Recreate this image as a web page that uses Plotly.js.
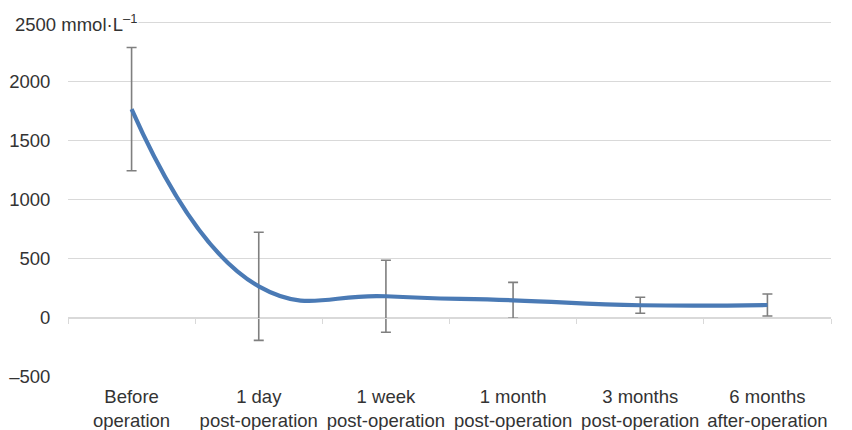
<!DOCTYPE html>
<html><head><meta charset="utf-8">
<script src="https://cdn.plot.ly/plotly-3.0.1.min.js"></script>
<style>html,body{margin:0;padding:0;background:#fff}#chart{width:852px;height:430px}</style>
</head><body><div id="chart"></div>
<script>
var categories = ["Before<br>operation","1 day<br>post-operation","1 week<br>post-operation","1 month<br>post-operation","3 months<br>post-operation","6 months<br>after-operation"];
var meanValues = [1770, 268, 184, 150, 108, 110];
var errorValues = [522, 458, 305, 152, 68, 93];
var yTickVals = [-500, 0, 500, 1000, 1500, 2000, 2500];
var yTickText = ["\u2013500", "0", "500", "1000", "1500", "2000", ""];
var boundaryVals = [-0.5, 0.5, 1.5, 2.5, 3.5, 4.5, 5.5];
var idx = categories.map(function(c,i){return i;});

var font = {family: "Liberation Sans, Arial, sans-serif", size: 18.5, color: "#333333"};

var traces = [{
  x: idx, y: meanValues, type: "scatter", mode: "lines",
  line: {color: "#4a7ab5", width: 4.2, shape: "spline", smoothing: 1.3},
  error_y: {type: "data", array: errorValues, visible: true, color: "#7f7f7f", thickness: 1.6, width: 5},
  hoverinfo: "none", showlegend: false
},{
  x: [-0.5, 5.5], y: [0, 0], xaxis: "x2", type: "scatter", mode: "lines",
  line: {color: "rgba(0,0,0,0)", width: 0}, hoverinfo: "none", showlegend: false
}];

var layout = {
  width: 852, height: 430,
  margin: {l: 68, r: 21, t: 17, b: 53},
  paper_bgcolor: "#fff", plot_bgcolor: "#fff",
  font: font,
  xaxis: {range: [-0.5, 5.5], tickvals: idx, ticktext: categories, showgrid: false, zeroline: false,
          showline: false, ticks: "outside", ticklen: 3, tickcolor: "rgba(0,0,0,0)", tickfont: font, automargin: false},
  xaxis2: {range: [-0.5, 5.5], overlaying: "x", anchor: "free", position: 500/3050,
           tickvals: boundaryVals, showticklabels: false, ticks: "outside", ticklen: 5, tickcolor: "#d9d9d9",
           showline: true, linecolor: "#d9d9d9", linewidth: 1, showgrid: false, zeroline: false},
  yaxis: {range: [-500, 2550], tickvals: yTickVals, ticktext: yTickText, showgrid: true, gridcolor: "#d9d9d9",
          gridwidth: 1, zeroline: false, showline: false, ticks: "outside", ticklen: 13, tickcolor: "rgba(0,0,0,0)",
          tickfont: font, automargin: false},
  annotations: [{xref: "paper", yref: "y", x: -0.072, y: 2500, xanchor: "left", yanchor: "middle",
                 text: "2500 mmol\u00b7L<sup>\u20131</sup>", showarrow: false, font: font, bgcolor: "#fff", borderpad: 1}]
};
Plotly.newPlot("chart", traces, layout, {displayModeBar: false, staticPlot: true});
</script></body></html>
